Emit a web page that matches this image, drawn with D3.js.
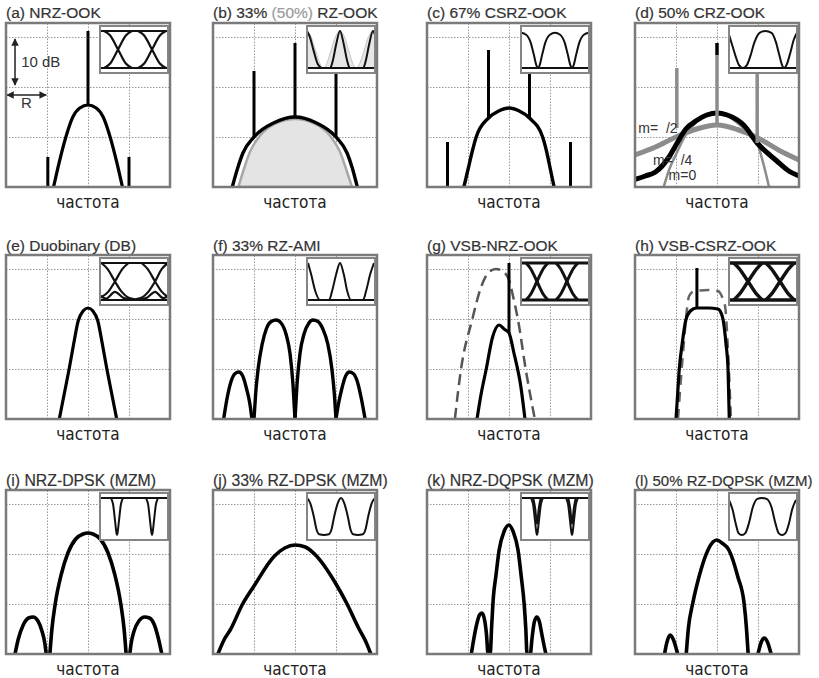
<!DOCTYPE html>
<html>
<head>
<meta charset="utf-8">
<script src="https://cdn.jsdelivr.net/npm/d3@7"></script>
<style>
  body { margin: 0; background: #fff; }
  .grid .domain { display: none; }
  .grid line { stroke: #9a9a9a; stroke-width: 1; stroke-dasharray: 1.5 1.5; }
  .title { font-family: "Liberation Sans", Arial, sans-serif; font-size: 15.5px; fill: #333; stroke: #333; stroke-width: 0.2; }
  .xlab { font-family: "DejaVu Sans Condensed", "DejaVu Sans", sans-serif; font-size: 17px; fill: #222; }
  .note { font-family: "Liberation Sans", Arial, sans-serif; font-size: 15px; fill: #333; white-space: pre; }
</style>
</head>
<body>
<svg id="chart" width="819" height="678"></svg>
<script>
'use strict'
// spectra: [frequency in units of R, level in dB above the bottom of the box]
// spikes: [frequency, from dB, to dB]
// insets: traces of [time in bit slots, normalised level]

const titles = ['(a) NRZ-OOK', '(b) 33% (50%) RZ-OOK', '(c) 67% CSRZ-OOK', '(d) 50% CRZ-OOK',
                '(e) Duobinary (DB)', '(f) 33% RZ-AMI', '(g) VSB-NRZ-OOK', '(h) VSB-CSRZ-OOK',
                '(i) NRZ-DPSK (MZM)', '(j) 33% RZ-DPSK (MZM)', '(k) NRZ-DQPSK (MZM)', '(l) 50% RZ-DQPSK (MZM)'];
const xLabel = 'частота';
const gridF = [-1, 0, 1];
const gridDb = [10, 20, 30];

// (a)
const aLobe = [[-0.84,0],[-0.7,5],[-0.54,10],[-0.37,14],[-0.2,15.8],[0,16.4],[0.2,15.8],[0.37,14],[0.54,10],[0.7,5],[0.84,0]];
const aSpikes = [[0,16.4,31.2],[-0.98,0,6],[1,0,6]];
const aEye = [
  [[0,1],[2,1]], [[0,0],[2,0]],
  [[0.12,0],[0.3,0.12],[0.53,0.5],[0.76,0.88],[0.94,1]], [[0.12,1],[0.3,0.88],[0.53,0.5],[0.76,0.12],[0.94,0]],
  [[1.12,0],[1.3,0.12],[1.53,0.5],[1.76,0.88],[1.94,1]], [[1.12,1],[1.3,0.88],[1.53,0.5],[1.76,0.12],[1.94,0]]
];
// (b)
const bBlack = [[-1.53,0],[-1.39,4],[-1.27,6.8],[-1,10],[-0.5,12.9],[0,14],[0.5,12.9],[1,10],[1.27,6.8],[1.39,4],[1.52,0]];
const bGray = [[-1.38,0],[-1.25,3.5],[-1.1,7],[-0.85,10.3],[-0.45,12.8],[0,13.6],[0.45,12.8],[0.85,10.3],[1.1,7],[1.25,3.5],[1.39,0]];
const bSpikes = [[0,14,28.8],[-1,10,23.2],[1,10,23.2]];
const bPulseGray = [[0,1],[0.12,0.85],[0.26,0.45],[0.38,0.12],[0.48,0],[0.58,0.12],[0.7,0.45],[0.84,0.85],[0.97,1],
  [1.1,0.85],[1.23,0.45],[1.35,0.12],[1.45,0],[1.55,0.12],[1.67,0.45],[1.81,0.85],[1.94,1],[2,0.97]];
const bPulse = [[0,1],[0.08,0.85],[0.2,0.45],[0.32,0.1],[0.44,0],[0.68,0],[0.76,0.2],[0.86,0.65],[0.97,1],
  [1.08,0.65],[1.18,0.2],[1.26,0],[1.65,0],[1.73,0.2],[1.83,0.65],[1.94,1],[2,0.9]];
// (c)
const cLobe = [[-1.1,0],[-1,3.5],[-0.9,7],[-0.8,10],[-0.5,13.8],[-0.25,15.2],[0,15.8],[0.25,15.2],[0.5,13.8],[0.82,10],[0.92,7],[1.01,3.5],[1.1,0]];
const cSpikes = [[-0.5,13.8,27.4],[0.5,13.8,27.4],[-1.5,0,9],[1.5,0,9]];
const cWave = [[0,0.95],[0.15,0.9],[0.28,0.7],[0.38,0.35],[0.45,0.08],[0.5,0],[0.55,0.08],[0.62,0.35],[0.72,0.7],[0.85,0.9],[1,0.95],
  [1.15,0.9],[1.28,0.7],[1.38,0.35],[1.45,0.08],[1.5,0],[1.55,0.08],[1.62,0.35],[1.72,0.7],[1.85,0.9],[2,0.95]];
// (d)
const dWide = [[-2,6.4],[-1.5,8],[-1,10],[-0.5,11.6],[0,12.4],[0.5,11.5],[1,9.8],[1.5,7.4],[2,5.4]];
const dBlack = [[-2,1.5],[-1.75,2.2],[-1.5,3],[-1.17,6],[-1,8.4],[-0.76,11.6],[-0.5,13.3],[-0.25,14.4],[0,14.8],
  [0.25,14.4],[0.5,13.4],[0.65,12.4],[0.98,8.8],[1.46,5.2],[1.75,3.2],[2,2.2]];
const dNarrow = [[-1.3,0],[-1.17,3.4],[-1,6.5],[-0.76,10.5],[-0.5,13],[-0.25,14.4],[0,14.8],[0.25,14.2],[0.5,12.8],
  [0.75,11],[0.98,8.8],[1.12,5],[1.27,0]];
const dSpikesBlack = [[0,26.4,28.8]];
const dSpikesGray = [[0,12.4,26.4],[-0.98,11.8,23.8],[0.98,8.8,24]];
const dLabels = [['m= \u00a0/2',-1.92,10.8],['m= \u00a0/4',-1.56,4.4],['m=0',-1.18,1.4]];
const dWave = [[0,0.9],[0.1,0.6],[0.2,0.3],[0.3,0.07],[0.41,0],[0.52,0.07],[0.62,0.3],[0.75,0.7],[0.9,0.95],[1.07,1],
  [1.25,0.95],[1.38,0.7],[1.48,0.35],[1.56,0.08],[1.62,0],[1.7,0.1],[1.8,0.4],[1.9,0.75],[2,0.95]];
// (e)
const eLobe = [[-0.7,0],[-0.58,5],[-0.46,10],[-0.35,15],[-0.24,19.6],[-0.12,21.6],[0,22.2],[0.12,21.6],[0.24,19.6],[0.35,15],[0.46,10],[0.58,5],[0.7,0]];
const eEye = [
  [[0,1],[2,1]], [[0,0],[2,0]],
  [[0.04,1],[0.22,0.84],[0.44,0.5],[0.64,0.22],[0.84,0.06],[1.03,0.02]], [[-0.15,0.02],[0.04,0.08],[0.24,0.22],[0.44,0.5],[0.66,0.84],[0.84,1]],
  [[1.22,1],[1.4,0.84],[1.62,0.5],[1.82,0.22],[2,0.08]], [[1.03,0.02],[1.22,0.06],[1.42,0.22],[1.62,0.5],[1.82,0.84],[2,1]],
  [[0,0.12],[0.18,0.04],[0.44,0.22],[0.7,0.05],[1.03,0],[1.36,0.05],[1.62,0.22],[1.86,0.05],[2,0.1]]
];
// (f)
const fLobes = [
  [[-1.74,0],[-1.66,4],[-1.56,7.5],[-1.46,9.1],[-1.37,9.4],[-1.28,8.7],[-1.18,6],[-1.1,3],[-1.05,0]],
  [[-1,0],[-0.96,5],[-0.9,10],[-0.8,15],[-0.7,18],[-0.58,19.5],[-0.46,19.8],[-0.34,19.2],[-0.22,17],[-0.12,13],[-0.05,7],[0,0]],
  [[0,0],[0.05,7],[0.12,13],[0.22,17],[0.34,19.2],[0.44,19.8],[0.56,19.5],[0.68,18],[0.8,15],[0.9,10],[0.96,5],[1,0]],
  [[1,0],[1.06,3],[1.14,6],[1.24,8.7],[1.33,9.4],[1.42,9.1],[1.52,7.5],[1.62,4],[1.71,0]]
];
const fPulse = [[0,0],[2,0]];
const fWave = [[0.03,1],[0.12,0.7],[0.24,0.25],[0.38,0],[0.65,0],[0.74,0.25],[0.86,0.7],[0.97,1],[1.08,0.7],[1.18,0.25],[1.29,0],
  [1.65,0],[1.74,0.25],[1.86,0.7],[1.97,1]];
// (g)
const gDashed = [[-1.32,0],[-1.17,10],[-0.9,19.8],[-0.68,26.4],[-0.5,29.3],[-0.32,30],[-0.15,29.5],[0,27.8],[0.1,24.5],[0.22,19.8],[0.41,9.8],[0.63,0]];
const gSolid = [[-0.78,0],[-0.68,5],[-0.56,9.8],[-0.4,16.4],[-0.24,18.8],[-0.12,18],[0,17.2],[0.12,13.2],[0.29,6.4],[0.39,0]];
const gSpikes = [[0,17.2,31.2]];
const gEye = [
  [[0,1],[2,1]], [[0,0],[2,0]],
  [[0.15,0],[0.28,0.15],[0.47,0.5],[0.66,0.85],[0.79,1]], [[0.15,1],[0.28,0.85],[0.47,0.5],[0.66,0.15],[0.79,0]],
  [[1.03,0],[1.16,0.15],[1.35,0.5],[1.54,0.85],[1.67,1]], [[1.03,1],[1.16,0.85],[1.35,0.5],[1.54,0.15],[1.67,0]]
];
// (h)
const hDashed = [[-0.95,0],[-0.88,8],[-0.8,16],[-0.74,21.5],[-0.68,24.6],[-0.55,25.6],[-0.2,25.8],[0.02,25.6],[0.12,24.5],[0.2,22.4],[0.26,15],[0.3,8],[0.34,0]];
const hSolid = [[-1,0],[-0.96,5],[-0.92,10],[-0.85,15],[-0.76,19.8],[-0.65,21.6],[-0.5,22.2],[-0.2,22.2],[0.02,22],[0.1,21.2],[0.15,19.8],[0.22,15],[0.27,9.8],[0.3,0]];
const hSpikes = [[-0.49,22.2,30.2]];
const hEye = [
  [[0,1],[2,1]], [[0,0],[2,0]],
  [[0.14,0],[0.3,0.15],[0.56,0.5],[0.82,0.85],[0.98,1]], [[0.14,1],[0.3,0.85],[0.56,0.5],[0.82,0.15],[0.98,0]],
  [[1.08,0],[1.24,0.15],[1.5,0.5],[1.76,0.85],[1.92,1]], [[1.08,1],[1.24,0.85],[1.5,0.5],[1.76,0.15],[1.92,0]]
];
// (i)
const iLobes = [
  [[-1.78,0],[-1.7,3],[-1.58,5.8],[-1.45,7.2],[-1.34,7.4],[-1.22,6.6],[-1.12,4.5],[-1.05,2],[-1.02,0]],
  [[-0.93,0],[-0.88,5],[-0.8,10],[-0.65,16],[-0.49,20.2],[-0.3,23],[-0.12,24],[0,24.2],[0.12,24],[0.3,23],[0.49,20.2],[0.65,16],[0.8,10],[0.88,5],[0.93,0]],
  [[1.02,0],[1.05,2],[1.12,4.5],[1.24,6.6],[1.38,7.4],[1.5,7.2],[1.62,5.8],[1.72,3],[1.8,0]]
];
const iWave = [
  [[0,1],[2,1]],
  [[0,1],[0.3,1],[0.38,0.85],[0.44,0.4],[0.48,0.08],[0.5,0],[0.52,0.08],[0.56,0.4],[0.62,0.85],[0.7,1],
   [1.33,1],[1.41,0.85],[1.47,0.4],[1.51,0.08],[1.53,0],[1.55,0.08],[1.59,0.4],[1.65,0.85],[1.73,1],[2,1]]
];
// (j)
const jLobe = [[-1.88,0],[-1.72,3],[-1.58,4.8],[-1.29,9.8],[-1,13.6],[-0.5,19.6],[-0.25,21.2],[0,21.8],[0.25,21.4],[0.5,19.8],[1,14],[1.27,10],[1.55,5.2],[1.72,2.6],[1.85,0]];
const jWave = [[0,1],[0.1,0.85],[0.2,0.5],[0.28,0.15],[0.36,0.02],[0.5,0],[0.64,0.02],[0.72,0.15],[0.8,0.5],[0.9,0.85],[1,1],
  [1.1,0.85],[1.2,0.5],[1.28,0.15],[1.36,0.02],[1.5,0],[1.64,0.02],[1.72,0.15],[1.8,0.5],[1.9,0.85],[2,1]];
// (k)
const kTrace = [[-0.92,0],[-0.88,2],[-0.8,5.5],[-0.72,7.8],[-0.66,8.2],[-0.6,7],[-0.55,4],[-0.51,0],[-0.46,0],[-0.42,6],[-0.38,11.5],
  [-0.32,15.6],[-0.24,20.8],[-0.12,24.5],[0,25.8],[0.1,24.5],[0.22,20.8],[0.3,15.4],[0.37,10],[0.41,5],[0.44,0],[0.52,0],
  [0.56,3],[0.62,6.5],[0.68,7.4],[0.74,6.5],[0.8,4],[0.86,1.5],[0.9,0]];
const kWave = [
  [[0,1],[2,1]],
  [[0,1],[0.27,1],[0.35,0.85],[0.41,0.4],[0.45,0.08],[0.47,0],[0.49,0.08],[0.53,0.4],[0.59,0.85],[0.67,1],
   [1.3,1],[1.38,0.85],[1.44,0.4],[1.48,0.08],[1.5,0],[1.52,0.08],[1.56,0.4],[1.62,0.85],[1.7,1],[2,1]],
  [[0.36,1],[0.42,0.7],[0.47,0.3],[0.52,0.7],[0.58,1]],
  [[1.39,1],[1.45,0.7],[1.5,0.3],[1.55,0.7],[1.61,1]]
];
// (l)
const lLobes = [
  [[-1.28,0],[-1.22,2.4],[-1.14,3.8],[-1.06,2.8],[-0.96,0]],
  [[-0.75,0],[-0.7,5],[-0.59,10.2],[-0.44,15.4],[-0.22,20.8],[-0.1,22.4],[0,22.8],[0.12,22.2],[0.29,20.8],[0.51,15.4],[0.66,10.2],[0.72,5],[0.76,0]],
  [[1,0],[1.08,2.4],[1.15,3.2],[1.23,2.4],[1.32,0]]
];
const lWave = [[0,0.95],[0.1,0.7],[0.2,0.3],[0.28,0.05],[0.38,0],[0.48,0.05],[0.58,0.3],[0.7,0.75],[0.82,0.97],[0.97,1],
  [1.12,0.97],[1.25,0.75],[1.37,0.3],[1.46,0.05],[1.56,0],[1.66,0.05],[1.76,0.3],[1.86,0.7],[1.97,0.95]];

// layout
const colX = [6, 213, 427, 635];
const rowY = [23, 255, 490];
const W = 164, H = 164;
const IX = 94, IY = 3, IW = 68, IH = 47;

const svg = d3.select('#chart');
const defs = svg.append('defs');
defs.append('marker').attr('id', 'arr').attr('viewBox', '0 0 10 10').attr('refX', 9).attr('refY', 5)
    .attr('markerWidth', 5).attr('markerHeight', 5).attr('orient', 'auto-start-reverse')
    .append('path').attr('d', 'M0,0L10,5L0,10z').attr('fill', '#222');

const fx = d3.scaleLinear().domain([-2, 2]).range([0, W]);
const fy = d3.scaleLinear().domain([0, 32.8]).range([H, 0]);
const spec = d3.line().x(d => fx(d[0])).y(d => fy(d[1])).curve(d3.curveMonotoneX);
const specArea = d3.area().x(d => fx(d[0])).y0(fy(0)).y1(d => fy(d[1])).curve(d3.curveMonotoneX);
const tx = d3.scaleLinear().domain([0, 2]).range([0, IW]);
const ty = d3.scaleLinear().domain([0, 1]).range([42, 5]);
const wave = d3.line().x(d => tx(d[0])).y(d => ty(d[1])).curve(d3.curveMonotoneX);
const waveArea = d3.area().x(d => tx(d[0])).y0(ty(0)).y1(d => ty(d[1])).curve(d3.curveMonotoneX);

function makePanel(key, col, row) {
  const g = svg.append('g').attr('transform', 'translate(' + colX[col] + ',' + rowY[row] + ')');
  defs.append('clipPath').attr('id', 'clip-' + key).append('rect').attr('width', W).attr('height', H);
  defs.append('clipPath').attr('id', 'iclip-' + key).append('rect').attr('width', IW).attr('height', IH);
  g.append('g').attr('class', 'grid').attr('transform', 'translate(0,' + H + ')')
   .call(d3.axisBottom(fx).tickValues(gridF).tickSize(-H).tickFormat(''));
  g.append('g').attr('class', 'grid')
   .call(d3.axisLeft(fy).tickValues(gridDb).tickSize(-W).tickFormat(''));
  const plot = g.append('g').attr('clip-path', 'url(#clip-' + key + ')');
  return { key, g, plot };
}
function curve(p, data, color, width, dash) {
  p.plot.append('path').attr('d', spec(data)).attr('fill', 'none').attr('stroke', color)
   .attr('stroke-width', width).attr('stroke-linejoin', 'round').attr('stroke-dasharray', dash || null);
}
function spikes(p, list, color, width) {
  p.plot.selectAll(null).data(list).join('line')
   .attr('x1', d => fx(d[0])).attr('x2', d => fx(d[0]))
   .attr('y1', d => fy(d[1])).attr('y2', d => fy(d[2]))
   .attr('stroke', color).attr('stroke-width', width);
}
function inset(p, traces, width, fillTrace) {
  const ig = p.g.append('g').attr('transform', 'translate(' + IX + ',' + IY + ')');
  ig.append('rect').attr('width', IW).attr('height', IH).attr('fill', '#fff');
  const c = ig.append('g').attr('clip-path', 'url(#iclip-' + p.key + ')');
  if (fillTrace) c.append('path').attr('d', waveArea(fillTrace)).attr('fill', '#e6e6e6').attr('stroke', '#c4c4c4').attr('stroke-width', 1);
  c.selectAll(null).data(traces).join('path').attr('d', wave).attr('fill', 'none')
   .attr('stroke', '#111').attr('stroke-width', width).attr('stroke-linejoin', 'round');
  ig.append('rect').attr('width', IW).attr('height', IH).attr('fill', 'none').attr('stroke', '#858585').attr('stroke-width', 2);
}
function frame(p) {
  p.g.append('rect').attr('width', W).attr('height', H).attr('fill', 'none')
   .attr('stroke', '#7a7a7a').attr('stroke-width', 2.5);
}

// (a)
const pa = makePanel('a', 0, 0);
curve(pa, aLobe, '#000', 3.2);
spikes(pa, aSpikes, '#000', 3);
inset(pa, aEye, 2.2);
pa.g.append('line').attr('x1', fx(-1.78)).attr('x2', fx(-1.78)).attr('y1', fy(29.6)).attr('y2', fy(20.4))
  .attr('stroke', '#222').attr('stroke-width', 1.5).attr('marker-start', 'url(#arr)').attr('marker-end', 'url(#arr)');
pa.g.append('text').attr('class', 'note').attr('x', fx(-1.63)).attr('y', fy(24)).text('10 dB');
pa.g.append('line').attr('x1', fx(-2) + 1).attr('x2', fx(-1.02)).attr('y1', fy(18.4)).attr('y2', fy(18.4))
  .attr('stroke', '#222').attr('stroke-width', 1.5).attr('marker-start', 'url(#arr)').attr('marker-end', 'url(#arr)');
pa.g.append('text').attr('class', 'note').attr('x', fx(-1.5)).attr('y', fy(15.8)).attr('text-anchor', 'middle').text('R');
frame(pa);

// (b)
const pb = makePanel('b', 1, 0);
pb.plot.append('path').attr('d', specArea(bGray)).attr('fill', '#e4e4e4').attr('stroke', '#a8a8a8').attr('stroke-width', 2.5);
curve(pb, bBlack, '#000', 3.4);
spikes(pb, bSpikes, '#000', 3);
inset(pb, [[[0,0],[2,0]], bPulse], 2, bPulseGray);
frame(pb);

// (c)
const pc = makePanel('c', 2, 0);
curve(pc, cLobe, '#000', 3.4);
spikes(pc, cSpikes, '#000', 3);
inset(pc, [[[0,0],[2,0]], cWave], 2);
frame(pc);

// (d)
const pd = makePanel('d', 3, 0);
curve(pd, dNarrow, '#8c8c8c', 2.5);
curve(pd, dWide, '#8c8c8c', 5);
curve(pd, dBlack, '#000', 5);
spikes(pd, dSpikesBlack, '#000', 3.5);
spikes(pd, dSpikesGray, '#8c8c8c', 3.5);
inset(pd, [[[0,0],[2,0]], dWave], 2);
pd.g.selectAll(null).data(dLabels).join('text').attr('class', 'note').style('font-size', '14px')
  .attr('x', d => fx(d[1])).attr('y', d => fy(d[2])).text(d => d[0]);
frame(pd);

// (e)
const pe = makePanel('e', 0, 1);
curve(pe, eLobe, '#000', 3.2);
inset(pe, eEye, 2.2);
frame(pe);

// (f)
const pf = makePanel('f', 1, 1);
fLobes.forEach(l => curve(pf, l, '#000', 3.4));
inset(pf, [fPulse, fWave], 2);
frame(pf);

// (g)
const pg = makePanel('g', 2, 1);
curve(pg, gDashed, '#555', 2.5, '11,6');
curve(pg, gSolid, '#000', 3.2);
spikes(pg, gSpikes, '#000', 3);
inset(pg, gEye, 3);
frame(pg);

// (h)
const ph = makePanel('h', 3, 1);
curve(ph, hDashed, '#666', 2.5, '10,7');
curve(ph, hSolid, '#000', 3.2);
spikes(ph, hSpikes, '#000', 3);
inset(ph, hEye, 3.4);
frame(ph);

// (i)
const pi = makePanel('i', 0, 2);
iLobes.forEach(l => curve(pi, l, '#000', 3.6));
inset(pi, iWave, 2);
frame(pi);

// (j)
const pj = makePanel('j', 1, 2);
curve(pj, jLobe, '#000', 3.6);
inset(pj, [jWave], 2);
frame(pj);

// (k)
const pk = makePanel('k', 2, 2);
curve(pk, kTrace, '#000', 3.6);
inset(pk, kWave, 2);
frame(pk);

// (l)
const pl = makePanel('l', 3, 2);
lLobes.forEach(l => curve(pl, l, '#000', 3.6));
inset(pl, [lWave], 2);
frame(pl);

// titles and axis names
const titleY = [18, 251, 486];
const titleSize = [15.5, 15.5, 15.8];
titles.forEach(function(t, i) {
  const col = i % 4, row = Math.floor(i / 4);
  const txt = svg.append('text').attr('class', 'title').attr('x', colX[col]).attr('y', titleY[row])
                 .style('font-size', (i === 11 ? 15 : titleSize[row]) + 'px');
  if (i === 1) {
    txt.append('tspan').text('(b) 33% ');
    txt.append('tspan').attr('fill', '#9a9a9a').attr('stroke', '#9a9a9a').text('(50%)');
    txt.append('tspan').text(' RZ-OOK');
  } else {
    txt.text(t);
  }
});
const labelY = [208, 440, 675];
rowY.forEach(function(ry, row) {
  colX.forEach(function(cx, col) {
    svg.append('text').attr('class', 'xlab').attr('x', cx + W / 2).attr('y', labelY[row])
       .attr('text-anchor', 'middle').text(xLabel);
  });
});
</script>
</body>
</html>
